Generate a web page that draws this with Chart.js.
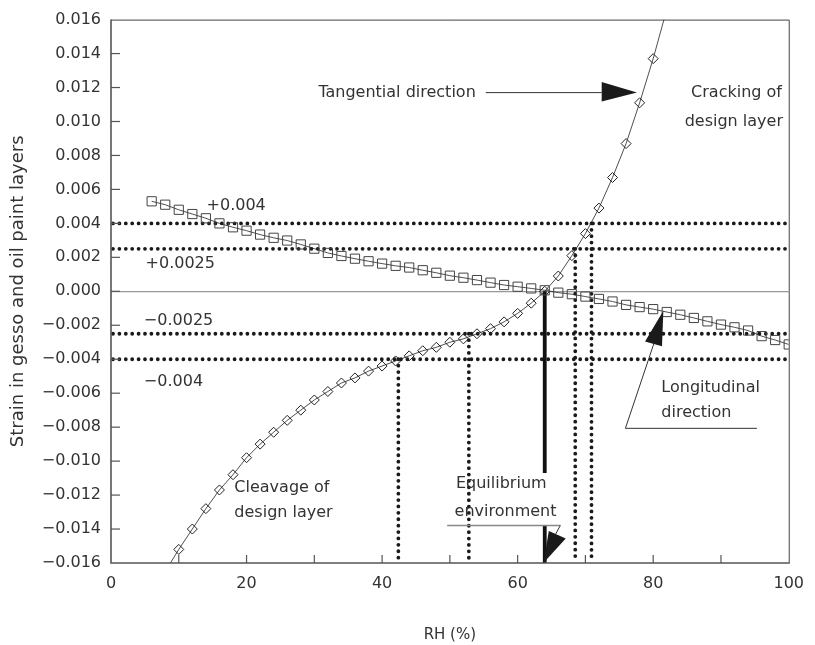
<!DOCTYPE html>
<html><head><meta charset="utf-8">
<script src="https://cdn.jsdelivr.net/npm/chart.js@4.4.1/dist/chart.umd.min.js"></script>
<style>html,body{margin:0;padding:0;background:#fff;}#wrap{width:815px;height:645px;}</style>
</head><body><div id="wrap"><canvas id="c" width="815" height="645"></canvas></div>
<script>
// ---- data ----
const rhLongitudinal = [6,8,10,12,14,16,18,20,22,24,26,28,30,32,34,36,38,40,42,44,46,48,50,52,54,56,58,60,62,64,66,68,70,72,74,76,78,80,82,84,86,88,90,92,94,96,98,100];
const strainLongitudinal = [0.0053,0.0051,0.0048,0.00455,0.0043,0.0040,0.00377,0.00357,0.00334,0.00315,0.00299,0.00276,0.00251,0.00226,0.00208,0.00192,0.00177,0.00163,0.0015,0.0014,0.00124,0.00109,0.00092,0.0008,0.00066,0.00051,0.00037,0.00027,0.00017,0.00006,-0.00008,-0.00017,-0.00031,-0.00045,-0.0006,-0.0008,-0.00093,-0.00105,-0.00122,-0.00138,-0.00157,-0.00177,-0.00196,-0.00212,-0.00231,-0.00264,-0.00287,-0.00313];
const rhTangential = [8,10,12,14,16,18,20,22,24,26,28,30,32,34,36,38,40,42,44,46,48,50,52,54,56,58,60,62,64,66,68,70,72,74,76,78,80,82];
const strainTangential = [-0.0165,-0.0152,-0.0140,-0.0128,-0.0117,-0.0108,-0.0098,-0.0090,-0.0083,-0.0076,-0.0070,-0.0064,-0.0059,-0.0054,-0.0051,-0.0047,-0.0044,-0.0041,-0.0038,-0.0035,-0.0033,-0.0030,-0.0028,-0.0025,-0.0022,-0.0018,-0.0013,-0.0007,0.0000,0.0009,0.0021,0.0034,0.0049,0.0067,0.0087,0.0111,0.0137,0.0166];
const xTickValues = [0,20,40,60,80,100];
const xMinorTickValues = [10,20,30,40,50,60,70,80,90];
const yTickValues = [-0.016,-0.014,-0.012,-0.010,-0.008,-0.006,-0.004,-0.002,0,0.002,0.004,0.006,0.008,0.010,0.012,0.014,0.016];
const thresholdLevels = [0.004, 0.0025, -0.0025, -0.004];
const thresholdLabels = ['+0.004', '+0.0025', '\u22120.0025', '\u22120.004'];
const thresholdCrossRH = [70.9, 68.5, 52.8, 42.4];
const equilibriumRH = 64;

const X_MIN = 0, X_MAX = 100, Y_MIN = -0.016, Y_MAX = 0.016;
const FONT = "'DejaVu Sans', sans-serif";
const TXT = '#333';

const toPts = (xs, ys) => xs.map((x, i) => ({x: x, y: ys[i]}));
const inRange = ctx => { const v = ctx.raw; return v && v.y >= Y_MIN && v.y <= Y_MAX; };

const annotations = {
  id: 'annotations',
  beforeDatasetsDraw(chart) {
    const {ctx, chartArea: a, scales: {x, y}} = chart;
    const X = v => x.getPixelForValue(v), Y = v => y.getPixelForValue(v);
    ctx.save();
    // dotted threshold lines
    ctx.strokeStyle = '#1a1a1a'; ctx.lineWidth = 3.8; ctx.lineCap = 'round'; ctx.setLineDash([0, 6.4]);
    thresholdLevels.forEach((lv, i) => {
      ctx.beginPath(); ctx.moveTo(a.left + 2, Y(lv)); ctx.lineTo(a.right - 1, Y(lv)); ctx.stroke();
      ctx.beginPath(); ctx.moveTo(X(thresholdCrossRH[i]), Y(lv)); ctx.lineTo(X(thresholdCrossRH[i]), a.bottom - 2); ctx.stroke();
    });
    ctx.setLineDash([]); ctx.lineCap = 'butt';
    // equilibrium solid line
    ctx.strokeStyle = '#111'; ctx.lineWidth = 3.8;
    ctx.beginPath(); ctx.moveTo(X(equilibriumRH), Y(0)); ctx.lineTo(X(equilibriumRH), Y(-0.0107)); ctx.stroke();
    ctx.beginPath(); ctx.moveTo(X(equilibriumRH), Y(-0.0138)); ctx.lineTo(X(equilibriumRH), a.bottom); ctx.stroke();
    ctx.restore();
  },
  afterDatasetsDraw(chart) {
    const {ctx, chartArea: a, scales: {x, y}} = chart;
    const X = v => x.getPixelForValue(v), Y = v => y.getPixelForValue(v);
    ctx.save();
    // frame
    ctx.strokeStyle = '#444'; ctx.lineWidth = 1;
    ctx.beginPath(); ctx.moveTo(a.left, a.top + 0.5); ctx.lineTo(a.right + 0.5, a.top + 0.5); ctx.lineTo(a.right + 0.5, a.bottom); ctx.stroke();
    ctx.lineWidth = 1.6; ctx.strokeStyle = '#555';
    ctx.beginPath(); ctx.moveTo(a.left, a.top); ctx.lineTo(a.left, a.bottom); ctx.lineTo(a.right + 1, a.bottom); ctx.stroke();
    // inward ticks
    ctx.lineWidth = 1.2; ctx.strokeStyle = '#555';
    xMinorTickValues.forEach(v => { ctx.beginPath(); ctx.moveTo(X(v), a.bottom); ctx.lineTo(X(v), a.bottom - 8); ctx.stroke(); });
    yTickValues.forEach(v => { if (v === Y_MAX || v === Y_MIN) return; ctx.beginPath(); ctx.moveTo(a.left, Y(v)); ctx.lineTo(a.left + 9, Y(v)); ctx.stroke(); });

    const tri = (p1, p2, p3) => { ctx.beginPath(); ctx.moveTo(X(p1[0]), Y(p1[1])); ctx.lineTo(X(p2[0]), Y(p2[1])); ctx.lineTo(X(p3[0]), Y(p3[1])); ctx.closePath(); ctx.fill(); };
    const seg = (p1, p2) => { ctx.beginPath(); ctx.moveTo(X(p1[0]), Y(p1[1])); ctx.lineTo(X(p2[0]), Y(p2[1])); ctx.stroke(); };
    ctx.fillStyle = '#1a1a1a';
    // tangential arrow
    ctx.strokeStyle = '#333'; ctx.lineWidth = 1;
    seg([55.3, 0.0117], [72.4, 0.0117]);
    tri([72.4, 0.01232], [72.4, 0.01118], [77.6, 0.01171]);
    // longitudinal arrow
    seg([75.9, -0.00807], [95.3, -0.00807]);
    seg([75.9, -0.00807], [80.1, -0.00308]);
    tri([78.8, -0.00296], [81.3, -0.00324], [81.5, -0.00115]);
    // equilibrium arrow
    ctx.strokeStyle = '#888'; ctx.lineWidth = 1.5;
    seg([49.6, -0.01379], [66.3, -0.01379]);
    ctx.strokeStyle = '#333'; ctx.lineWidth = 1;
    seg([66.3, -0.01379], [65.6, -0.0143]);
    tri([63.8, -0.0160], [67.1, -0.01456], [64.6, -0.01412]);

    // texts
    ctx.fillStyle = TXT; ctx.font = '16px ' + FONT; ctx.textBaseline = 'middle'; ctx.textAlign = 'left';
    const T = (s, rx, vy, al) => { ctx.textAlign = al || 'left'; ctx.fillText(s, X(rx), Y(vy)); };
    T(thresholdLabels[0], 14.1, 0.00502);
    T(thresholdLabels[1], 5.1, 0.00163);
    T(thresholdLabels[2], 4.85, -0.00175);
    T(thresholdLabels[3], 4.85, -0.00535);
    T('Tangential direction', 30.6, 0.0117);
    T('Cracking of', 92.3, 0.0117, 'center');
    T('design layer', 91.9, 0.0100, 'center');
    T('Cleavage of', 18.2, -0.01156);
    T('design layer', 18.2, -0.01302);
    T('Equilibrium', 50.9, -0.01136);
    T('environment', 50.7, -0.01297);
    T('Longitudinal', 81.2, -0.00568);
    T('direction', 81.2, -0.00714);
    ctx.restore();
  }
};

new Chart(document.getElementById('c'), {
  type: 'scatter',
  data: {
    datasets: [
      {
        label: 'Longitudinal direction',
        data: toPts(rhLongitudinal, strainLongitudinal),
        showLine: true, borderColor: '#222', borderWidth: 0.8,
        pointStyle: 'rect', pointRadius: ctx => inRange(ctx) ? 6.5 : 0,
        pointBorderColor: '#444', pointBorderWidth: 1, pointBackgroundColor: 'rgba(0,0,0,0)'
      },
      {
        label: 'Tangential direction',
        data: toPts(rhTangential, strainTangential),
        showLine: true, borderColor: '#222', borderWidth: 0.8,
        pointStyle: 'rectRot', pointRadius: ctx => inRange(ctx) ? 5 : 0,
        pointBorderColor: '#222', pointBorderWidth: 1, pointBackgroundColor: 'rgba(0,0,0,0)'
      }
    ]
  },
  options: {
    responsive: false, animation: false, devicePixelRatio: 1,
    layout: {padding: {left: 0, right: 23, top: 13, bottom: 0}},
    plugins: {legend: {display: false}, tooltip: {enabled: false}},
    scales: {
      x: {
        type: 'linear', min: X_MIN, max: X_MAX,
        afterBuildTicks: s => { s.ticks = xTickValues.map(v => ({value: v})); },
        afterFit: s => { s.height = 82; },
        ticks: {color: TXT, font: {family: FONT, size: 16}, padding: 11, maxRotation: 0},
        grid: {drawOnChartArea: false, drawTicks: false},
        border: {display: false},
        title: {display: true, text: 'RH (%)', color: TXT, font: {family: FONT, size: 15}, padding: {top: 0, bottom: 1}}
      },
      y: {
        type: 'linear', min: Y_MIN, max: Y_MAX,
        afterBuildTicks: s => { s.ticks = yTickValues.map(v => ({value: v})); },
        afterFit: s => { s.width = 111; },
        ticks: {color: TXT, font: {family: FONT, size: 16}, padding: 10,
          callback: v => (v < 0 ? '\u2212' : '') + Math.abs(v).toFixed(3)},
        grid: {drawTicks: false, color: c => (c.tick && c.tick.value === 0) ? '#999' : 'rgba(0,0,0,0)', lineWidth: 1.2},
        border: {display: false},
        title: {display: true, text: 'Strain in gesso and oil paint layers', color: TXT, font: {family: FONT, size: 18}, padding: {top: 8, bottom: 0}}
      }
    }
  },
  plugins: [annotations]
});
</script>
</body></html>
